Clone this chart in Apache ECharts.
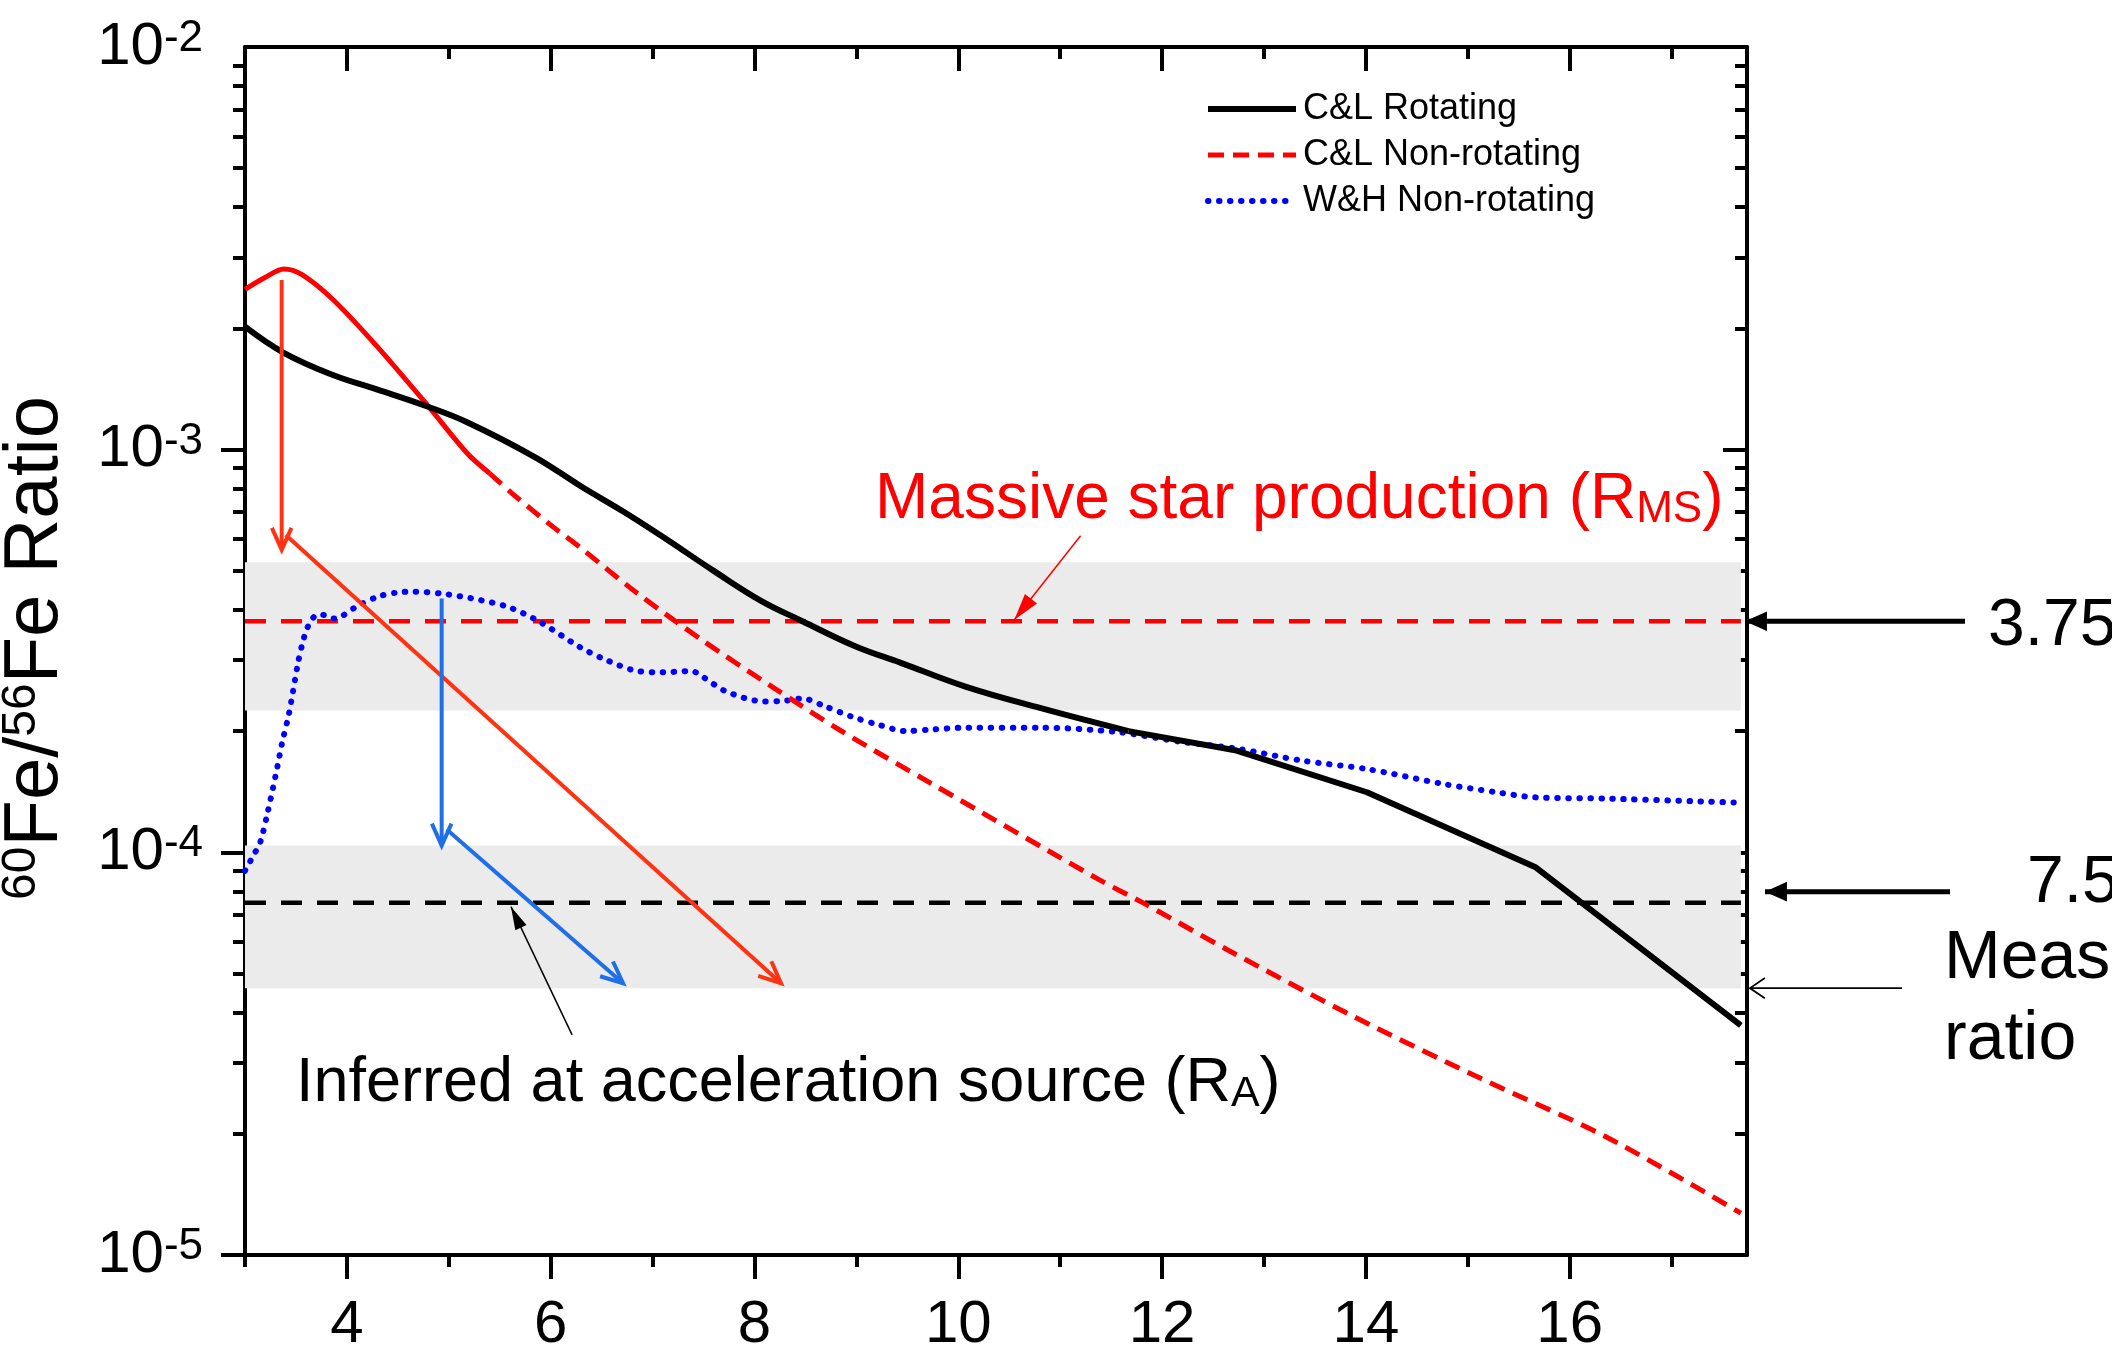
<!DOCTYPE html>
<html><head><meta charset="utf-8">
<script src="https://cdn.jsdelivr.net/npm/echarts@6/dist/echarts.min.js"></script>
<style>html,body{margin:0;padding:0;background:#fff}#c{width:2112px;height:1355px}</style>
</head><body><div id="c"></div>
<script>
const FONT = '"Liberation Sans", Arial, Helvetica, sans-serif';

// ---- data ----
// C&L Rotating: smooth part, then piecewise part
const rotX = [3.0, 3.38, 3.87, 4.3, 4.79, 5.18, 5.84, 6.3, 6.72, 7.11, 7.6, 8.06, 8.47, 9.0, 9.43, 10.07, 10.81, 11.67];
const rotY = [2.02e-3, 1.74e-3, 1.53e-3, 1.41e-3, 1.28e-3, 1.17e-3, 9.6e-4, 8.1e-4, 7.0e-4, 6.05e-4, 5.0e-4, 4.22e-4, 3.75e-4, 3.24e-4, 2.96e-4, 2.58e-4, 2.28e-4, 2.0e-4];
const rotTailX = [11.67, 12.73, 14.01, 15.66, 17.68];
const rotTailY = [2.0e-4, 1.79e-4, 1.41e-4, 9.2e-5, 3.72e-5];

const nrSolidX = [3.0, 3.2, 3.38, 3.56, 3.87, 4.3, 4.79, 5.18, 5.4];
const nrSolidY = [2.50e-3, 2.68e-3, 2.81e-3, 2.72e-3, 2.35e-3, 1.80e-3, 1.29e-3, 9.8e-4, 8.74e-4];
const nrDashX = [5.4, 5.62, 6.02, 6.28, 6.85, 7.49, 8.17, 8.84, 9.74, 11.39, 11.81, 12.64, 13.88, 15.12, 16.35, 17.68];
const nrDashY = [8.74e-4, 7.79e-4, 6.44e-4, 5.74e-4, 4.40e-4, 3.36e-4, 2.58e-4, 2.01e-4, 1.48e-4, 8.53e-5, 7.5e-5, 5.73e-5, 3.91e-5, 2.75e-5, 1.97e-5, 1.27e-5];

const whX = [3.0, 3.08, 3.15, 3.22, 3.30, 3.37, 3.43, 3.52, 3.57, 3.61, 3.66, 3.72, 3.80, 3.87, 3.95, 4.09, 4.31, 4.50, 4.66, 4.93, 5.23, 5.58, 5.89, 6.28, 6.51, 6.85, 7.10, 7.38, 7.50, 7.72, 8.09, 8.30, 8.47, 8.70, 8.96, 9.20, 9.49, 9.75, 10.07, 10.81, 11.56, 12.19, 12.73, 13.37, 14.01, 14.75, 15.28, 15.65, 16.35, 17.61];
const whY = [9.0e-5, 9.8e-5, 1.06e-4, 1.25e-4, 1.55e-4, 1.9e-4, 2.2e-4, 2.95e-4, 3.35e-4, 3.6e-4, 3.8e-4, 3.9e-4, 3.87e-4, 3.81e-4, 3.86e-4, 4.07e-4, 4.32e-4, 4.42e-4, 4.44e-4, 4.39e-4, 4.27e-4, 4.07e-4, 3.74e-4, 3.24e-4, 3.03e-4, 2.82e-4, 2.80e-4, 2.82e-4, 2.72e-4, 2.51e-4, 2.37e-4, 2.38e-4, 2.41e-4, 2.30e-4, 2.17e-4, 2.08e-4, 2.0e-4, 2.02e-4, 2.04e-4, 2.04e-4, 1.99e-4, 1.88e-4, 1.81e-4, 1.69e-4, 1.61e-4, 1.48e-4, 1.41e-4, 1.37e-4, 1.36e-4, 1.33e-4];

const refLineX = [3.0, 17.68];
const rMS = 3.75e-4;          // massive star production
const rA = 7.5e-5;            // inferred at acceleration source
const bandMS = [2.25e-4, 5.25e-4];
const bandA = [4.6e-5, 1.04e-4];

const xMajor = [4, 6, 8, 10, 12, 14, 16];
const xMinor = [3, 5, 7, 9, 11, 13, 15, 17];
const yMajor = [1e-5, 1e-4, 1e-3, 1e-2];
const yMinorMant = [2, 3, 4, 5, 6, 7, 8, 9];
const yMinor = [];
[1e-5, 1e-4, 1e-3].forEach(d => yMinorMant.forEach(m => yMinor.push(+(m * d).toPrecision(3))));

const legendNames = ['C&L Rotating', 'C&L Non-rotating', 'W&H Non-rotating'];

// annotation arrows (data coords): [x1,y1,x2,y2]
const arrRedV = [3.36, 2.64e-3, 3.36, 5.64e-4];
const arrRedD = [3.40, 6.14e-4, 8.26, 4.73e-5];
const arrBlueV = [4.93, 4.27e-4, 4.93, 1.04e-4];
const arrBlueD = [4.98, 1.14e-4, 6.71, 4.73e-5];
const arrInferred = [6.21, 3.52e-5, 5.61, 7.33e-5];
const arrMassive = [11.20, 6.11e-4, 10.55, 3.78e-4];

const X_MIN = 3, X_MAX = 17.74, Y_MIN = 1e-5, Y_MAX = 1e-2;
const zip = (xs, ys) => xs.map((x, i) => [x, ys[i]]);

const chart = echarts.init(document.getElementById('c'), null, {renderer: 'canvas'});
const AX = {color: '#000', width: 4};

function xAx(pos, values, len, inside, line, label) {
  return {
    type: 'value', position: pos, min: X_MIN, max: X_MAX, gridIndex: 0,
    axisLine: {show: line, lineStyle: AX},
    splitLine: {show: false},
    axisTick: {show: true, customValues: values, length: len, inside: inside, lineStyle: AX},
    axisLabel: label ? {show: true, customValues: values, fontSize: 60, fontFamily: FONT, color: '#000', margin: 40} : {show: false}
  };
}
function yAx(pos, values, len, inside, line, label) {
  const o = {
    type: 'log', logBase: 10, position: pos, min: Y_MIN, max: Y_MAX, gridIndex: 0,
    axisLine: {show: line, lineStyle: AX},
    splitLine: {show: false},
    axisTick: {show: true, length: len, inside: inside, lineStyle: AX},
    axisLabel: {show: false}
  };
  if (values) o.axisTick.customValues = values;
  if (label) {
    o.axisLabel = {
      show: true, margin: 42,
      formatter: v => '{b|10}{s|' + Math.round(Math.log10(v)) + '}',
      rich: {
        b: {fontSize: 60, fontFamily: FONT, color: '#000', lineHeight: 60},
        s: {fontSize: 44, fontFamily: FONT, color: '#000', lineHeight: 28, verticalAlign: 'top'}
      }
    };
  }
  return o;
}

const BLACK_LS = {color: '#000', width: 6};
chart.setOption({
  animation: false,
  backgroundColor: '#fff',
  grid: {left: 245, right: 365, top: 47, bottom: 100, containLabel: false},
  xAxis: [
    xAx('bottom', xMajor, 24, false, true, true),
    xAx('bottom', xMinor, 12, false, false, false),
    xAx('top', xMajor, 24, true, true, false),
    xAx('top', xMinor, 12, true, false, false)
  ],
  yAxis: [
    yAx('left', yMajor, 24, false, true, true),
    yAx('left', yMinor, 12, false, false, false),
    yAx('right', yMajor, 24, true, true, false),
    yAx('right', yMinor, 12, true, false, false)
  ],
  legend: {
    data: legendNames, orient: 'vertical', left: 1200, top: 86,
    itemWidth: 88, itemHeight: 14, itemGap: 10,
    textStyle: {fontSize: 36, fontFamily: FONT, color: '#000', lineHeight: 36, padding: [0, 0, 0, 2]},
    lineStyle: {width: 'inherit'},
    itemStyle: {opacity: 0},
    selectedMode: false
  },
  series: [
    {
      name: 'bands', type: 'line', data: [[X_MIN, rMS]], symbol: 'none', z: 1,
      lineStyle: {opacity: 0}, silent: true,
      markArea: {
        silent: true, itemStyle: {color: '#ebebeb'},
        data: [
          [{coord: [refLineX[0], bandMS[1]]}, {coord: [refLineX[1], bandMS[0]]}],
          [{coord: [refLineX[0], bandA[1]]}, {coord: [refLineX[1], bandA[0]]}]
        ]
      }
    },
    {name: 'RMS line', type: 'line', z: 2, symbol: 'none', silent: true,
     data: refLineX.map(x => [x, rMS]), lineStyle: {color: '#ff0000', width: 4.5, type: [21, 15]}},
    {name: 'RA line', type: 'line', z: 2, symbol: 'none', silent: true,
     data: refLineX.map(x => [x, rA]), lineStyle: {color: '#000', width: 4.5, type: [21, 15]}},
    {name: 'W&H Non-rotating', type: 'line', z: 3, symbol: 'none', smooth: 0.3,
     data: zip(whX, whY), itemStyle: {color: '#0000ff'},
     lineStyle: {color: '#0000ff', width: 6, type: [0.5, 10.5], cap: 'round'}},
    {name: 'C&L Non-rotating', type: 'line', z: 4, symbol: 'none', smooth: 0.3,
     data: zip(nrDashX, nrDashY), itemStyle: {color: '#ff0000'},
     lineStyle: {color: '#ff0000', width: 5, type: [16, 9]}},
    {name: 'nr-solid', type: 'line', z: 4, symbol: 'none', smooth: 0.3,
     data: zip(nrSolidX, nrSolidY), lineStyle: {color: '#ff0000', width: 5}},
    {name: 'C&L Rotating', type: 'line', z: 5, symbol: 'none', smooth: 0.4,
     data: zip(rotX, rotY), itemStyle: {color: '#000'}, lineStyle: BLACK_LS},
    {name: 'rot-tail', type: 'line', z: 5, symbol: 'none',
     data: zip(rotTailX, rotTailY), lineStyle: BLACK_LS}
  ]
});

// ---- annotations ----
const P = (x, y) => chart.convertToPixel({xAxisIndex: 0, yAxisIndex: 0}, [x, y]);
const G = [];
function headPts(from, tip, L, ang) {
  const dx = tip[0] - from[0], dy = tip[1] - from[1];
  const d = Math.hypot(dx, dy), ux = dx / d, uy = dy / d;
  const c = Math.cos(ang), s = Math.sin(ang);
  const a = [tip[0] - L * (ux * c - uy * s), tip[1] - L * (uy * c + ux * s)];
  const b = [tip[0] - L * (ux * c + uy * s), tip[1] - L * (uy * c - ux * s)];
  return [a, b];
}
function arrow(from, tip, color, w, L, ang, filled) {
  G.push({type: 'line', z: 50, shape: {x1: from[0], y1: from[1], x2: tip[0], y2: tip[1]},
          style: {stroke: color, lineWidth: w}});
  const [a, b] = headPts(from, tip, L, ang);
  if (filled) {
    G.push({type: 'polygon', z: 51, shape: {points: [tip, a, b]}, style: {fill: color}});
  } else {
    G.push({type: 'polyline', z: 51, shape: {points: [a, tip, b]},
            style: {stroke: color, lineWidth: w, fill: null, lineJoin: 'miter'}});
  }
}
function dataArrow(arr, color, w, L, ang, filled) {
  arrow(P(arr[0], arr[1]), P(arr[2], arr[3]), color, w, L, ang, filled);
}
const RED_A = '#ff3311', BLUE_A = '#1f6fe8';
dataArrow(arrRedV, RED_A, 4, 24, 0.42, false);
dataArrow(arrRedD, RED_A, 4, 24, 0.42, false);
dataArrow(arrBlueV, BLUE_A, 4, 24, 0.42, false);
dataArrow(arrBlueD, BLUE_A, 4, 24, 0.42, false);
dataArrow(arrInferred, '#000', 1.5, 24, 0.26, true);
dataArrow(arrMassive, '#ff0000', 1.5, 28, 0.28, true);

// right-side arrows outside plot
const yMS = P(X_MAX, rMS)[1];
const xR = P(X_MAX, rMS)[0];
const yA = P(X_MAX, rA)[1];
const yMeas = P(X_MAX, bandA[0])[1];
arrow([xR + 218, yMS], [xR - 2, yMS], '#000', 5, 24, 0.42, true);
arrow([xR + 203, yA - 11], [xR + 18, yA - 11], '#000', 5, 24, 0.42, true);
arrow([xR + 155, yMeas], [xR + 3, yMeas], '#000', 1.8, 18, 0.6, false);

function txt(x, y, text, rich, opts) {
  G.push(Object.assign({type: 'text', z: 60, x: x, y: y,
    style: {text: text, rich: rich, align: 'left', verticalAlign: 'middle', fontFamily: FONT}}, opts || {}));
}
const big = (c, fs) => ({fontSize: fs, fontFamily: FONT, fill: c, lineHeight: fs});
txt(xR + 241, yMS + 6, '{m|3.75}', {m: big('#000', 66)});
txt(xR + 280, yA - 19, '{m|7.5}', {m: big('#000', 66)});
txt(xR + 197, yMeas - 29, '{m|Measured}', {m: big('#000', 68)});
txt(xR + 197, yMeas + 52, '{m|ratio}', {m: big('#000', 68)});

txt(875, 500, '{m|Massive star production (R}{s|MS}{m|)}', {
  m: big('#ff0000', 64),
  s: {fontSize: 44, fontFamily: FONT, fill: '#ff0000', lineHeight: 22, verticalAlign: 'bottom'}
});
txt(296, 1084, '{m|Inferred at acceleration source (R}{s|A}{m|)}', {
  m: big('#000', 63),
  s: {fontSize: 43, fontFamily: FONT, fill: '#000', lineHeight: 22, verticalAlign: 'bottom'}
});

// y-axis title
G.push({type: 'text', z: 60, x: 36, y: 648, rotation: Math.PI / 2,
  style: {text: '{s|60}{m|Fe/}{s|56}{m|Fe Ratio}', align: 'center', verticalAlign: 'middle',
    rich: {
      m: {fontSize: 76, fontFamily: FONT, fill: '#000', lineHeight: 76},
      s: {fontSize: 48, fontFamily: FONT, fill: '#000', lineHeight: 34, verticalAlign: 'top'}
    }}});

chart.setOption({graphic: {elements: G}});
</script>
</body></html>
